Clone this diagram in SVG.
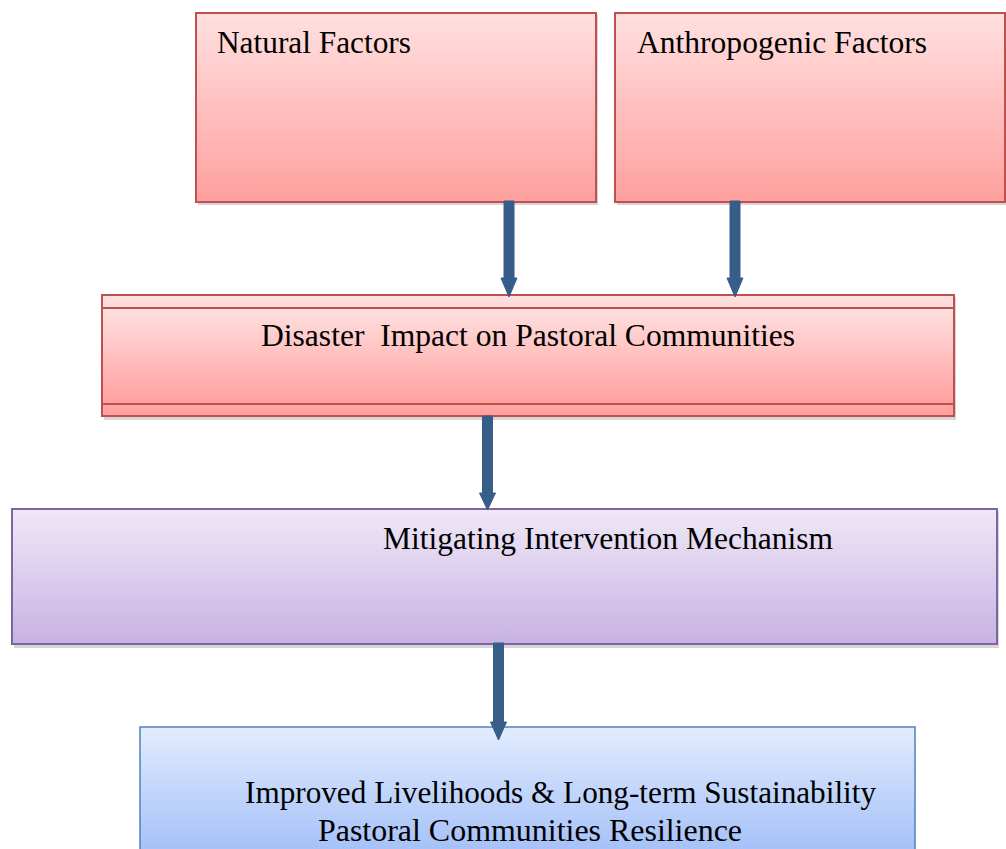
<svg xmlns="http://www.w3.org/2000/svg" width="1006" height="849" viewBox="0 0 1006 849">
<defs>
<linearGradient id="gPink" x1="0" y1="0" x2="0" y2="1">
<stop offset="0" stop-color="#FFE0E0"/><stop offset="1" stop-color="#FFA09E"/>
</linearGradient>
<linearGradient id="gPurple" x1="0" y1="0" x2="0" y2="1">
<stop offset="0" stop-color="#EFE8F7"/><stop offset="1" stop-color="#C8B2E3"/>
</linearGradient>
<linearGradient id="gBlue" x1="0" y1="0" x2="0" y2="1">
<stop offset="0" stop-color="#E2ECFE"/><stop offset="1" stop-color="#A2BFF8"/>
</linearGradient>
</defs>
<style>
.shadow{fill:#D6D6D6}
.pink{fill:url(#gPink);stroke:#C0504D;stroke-width:2}
.purple{fill:url(#gPurple);stroke:#8064A2;stroke-width:2}
.blue{fill:url(#gBlue);stroke:#4F81BD;stroke-width:1.5}
.lbl{font-family:"Liberation Serif",serif;font-size:31px;fill:#000;white-space:pre}
.arrow{fill:#375D89;stroke:#375D89;stroke-width:1;stroke-linejoin:round}
</style>
<rect width="1006" height="849" fill="#FFFFFF"/>
<g id="natural">
<rect class="shadow" x="198" y="15" width="400" height="190"/>
<rect class="pink" x="196" y="13" width="400" height="189"/>
<text class="lbl" x="217" y="53" textLength="194" lengthAdjust="spacingAndGlyphs">Natural Factors</text>
</g>
<g id="anthropogenic">
<rect class="shadow" x="617" y="15" width="389" height="190"/>
<rect class="pink" x="615" y="13" width="390" height="189"/>
<text class="lbl" x="637" y="53" textLength="290" lengthAdjust="spacingAndGlyphs">Anthropogenic Factors</text>
</g>
<g id="disaster">
<rect class="shadow" x="104" y="297" width="852" height="123"/>
<rect class="pink" x="102" y="295" width="852" height="121"/>
<rect class="pink" x="102" y="308" width="852" height="96"/>
<text class="lbl" x="261" y="346" textLength="534" lengthAdjust="spacingAndGlyphs">Disaster  Impact on Pastoral Communities</text>
</g>
<g id="mitigating">
<rect class="shadow" x="14" y="511" width="985" height="137"/>
<rect class="purple" x="12" y="509" width="985" height="135"/>
<text class="lbl" x="383" y="549" textLength="450" lengthAdjust="spacingAndGlyphs">Mitigating Intervention Mechanism</text>
</g>
<g id="improved">
<rect class="blue" x="140" y="727" width="775" height="130"/>
<text class="lbl" x="245" y="803" textLength="631" lengthAdjust="spacingAndGlyphs">Improved Livelihoods &amp; Long-term Sustainability</text>
<text class="lbl" x="318" y="841" textLength="424" lengthAdjust="spacingAndGlyphs">Pastoral Communities Resilience</text>
</g>
<g id="connectors">
<path class="arrow" d="M504,201 L514,201 L514,278 L517,278 L509,297 L501,278 L504,278 Z"/>
<path class="arrow" d="M730,201 L740,201 L740,278 L743,278 L735,297 L727,278 L730,278 Z"/>
<path class="arrow" d="M482.5,416 L492.5,416 L492.5,493 L495.5,493 L487.5,510 L479.5,493 L482.5,493 Z"/>
<path class="arrow" d="M493.5,643 L503.5,643 L503.5,722 L506.5,722 L498.5,740 L490.5,722 L493.5,722 Z"/>
</g>
</svg>
